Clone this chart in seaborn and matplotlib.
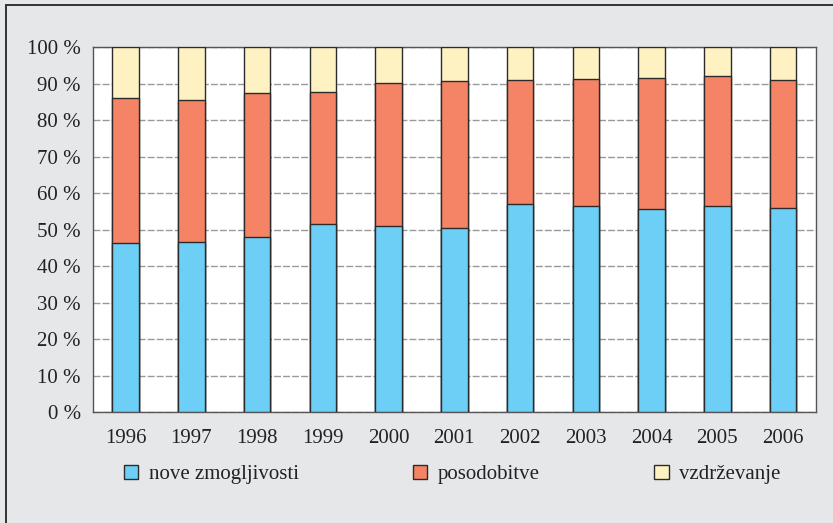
import matplotlib.pyplot as plt
import seaborn as sns
import pandas as pd
from matplotlib.lines import Line2D
from matplotlib.patches import Patch

years = ["1996", "1997", "1998", "1999", "2000", "2001", "2002", "2003", "2004", "2005", "2006"]
nove = [46.4, 46.6, 47.9, 51.5, 51.0, 50.4, 57.0, 56.6, 55.7, 56.4, 55.9]
posodobitve = [39.6, 38.9, 39.5, 36.2, 39.3, 40.4, 33.9, 34.8, 35.9, 35.6, 35.0]
vzdrzevanje = [14.0, 14.5, 12.6, 12.3, 9.7, 9.2, 9.1, 8.6, 8.4, 8.0, 9.1]
labels = ["nove zmogljivosti", "posodobitve", "vzdrževanje"]
colors = ["#6dcff6", "#f58466", "#fff2c2"]

df = pd.DataFrame({"leto": years, "nove": nove, "pos": posodobitve, "vzd": vzdrzevanje})
df["top1"] = df["nove"]
df["top2"] = df["nove"] + df["pos"]
df["top3"] = df["top2"] + df["vzd"]

sns.set_style("white")
plt.rcParams["font.family"] = ["Liberation Serif", "DejaVu Serif"]
plt.rcParams["font.size"] = 15

bg = "#e6e7e9"
fig = plt.figure(figsize=(8.33, 5.23), dpi=100, facecolor=bg)
ax = fig.add_axes([0.1113, 0.2122, 0.8683, 0.6974])
ax.set_facecolor("white")

# stacked bars: draw cumulative totals from the top down
for col, c in zip(["top3", "top2", "top1"], colors[::-1]):
    sns.barplot(data=df, x="leto", y=col, color=c, width=0.405,
                edgecolor="#2b2b2b", linewidth=1.0, saturation=1, ax=ax, zorder=3)

ax.set_ylim(0, 100)
ax.set_xlim(-0.5, len(years) - 0.5)
ax.set_yticks(range(0, 101, 10))
ax.set_yticklabels([f"{v} %" for v in range(0, 101, 10)])
ax.set_xlabel("")
ax.set_ylabel("")
ax.yaxis.grid(True, color="#999999", linestyle=(0, (5, 1.5)), linewidth=1.0, zorder=0)
ax.set_axisbelow(True)
ax.tick_params(axis="y", length=4.5, width=1, color="#555555", pad=4, labelcolor="#222222")
ax.tick_params(axis="x", length=0, pad=12, labelcolor="#222222")
for s in ax.spines.values():
    s.set_color("#555555")
    s.set_linewidth(1.0)

handles = [Patch(facecolor=c, edgecolor="#2b2b2b", linewidth=1.0) for c in colors]
fig.legend(handles, labels, loc="center left", bbox_to_anchor=(0.149, 0.093),
           ncol=3, frameon=False, handlelength=0.68, handleheight=0.68,
           handletextpad=0.5, columnspacing=5.5, fontsize=15,
           labelcolor="#222222", borderaxespad=0, borderpad=0)

# outer frame lines (top and left)
fig.add_artist(Line2D([5.5 / 833, 1], [1 - 4.5 / 523] * 2, color="#333333", lw=1.4))
fig.add_artist(Line2D([5.5 / 833] * 2, [0, 1 - 4.5 / 523], color="#333333", lw=1.4))

fig.savefig("out.png", dpi=100, facecolor=bg)
